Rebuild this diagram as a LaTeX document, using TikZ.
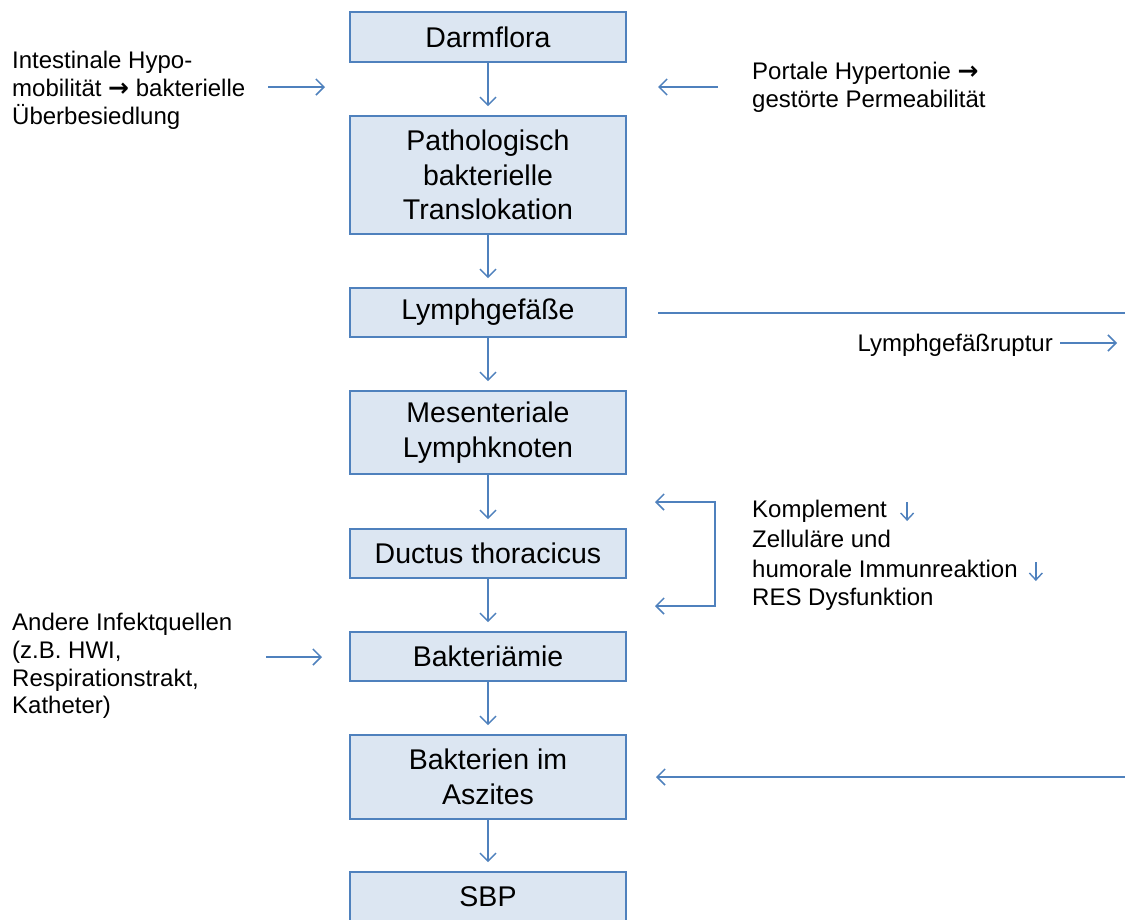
\documentclass[tikz,border=0pt]{standalone}
\usepackage{fontspec}
\setmainfont{Liberation Sans}
\newfontfamily\symfont{DejaVu Sans}
\usetikzlibrary{arrows.meta}
\definecolor{boxfill}{HTML}{DCE6F2}
\definecolor{boxline}{HTML}{4F81BD}
\definecolor{arr}{HTML}{4F81BD}
\begin{document}
\begin{tikzpicture}[x=1pt,y=-1pt,
  flowbox/.style={draw=boxline, line width=1.6pt, fill=boxfill, minimum width=276pt,
    align=center, font=\fontsize{28.5}{34.5}\selectfont, inner sep=0pt},
  side/.style={align=left, font=\fontsize{24}{27.8}\selectfont, inner sep=0pt},
  flow/.style={draw=arr, line width=1.5pt, -{Straight Barb[length=8pt,width=16pt]}},
  both/.style={draw=arr, line width=1.5pt, {Straight Barb[length=8pt,width=16pt]}-{Straight Barb[length=8pt,width=16pt]}},
  small/.style={draw=arr, line width=1.4pt, -{Straight Barb[length=7pt,width=13pt]}},
  plain/.style={draw=arr, line width=1.5pt}
]
\clip (0,0) rectangle (1125,919);
\fill[white] (0,0) rectangle (1125,919);

% main chain
\node[flowbox, minimum height=50pt] (d) at (488,37) {Darmflora};
\node[flowbox, minimum height=118pt] (p) at (488,175) {Pathologisch\\bakterielle\\Translokation};
\node[flowbox, minimum height=49pt] (l) at (488,312.5) {Lymphgefäße};
\node[flowbox, minimum height=83pt] (m) at (488,432.5) {Mesenteriale\\Lymphknoten};
\node[flowbox, minimum height=49pt] (dt) at (488,553.5) {Ductus thoracicus};
\node[flowbox, minimum height=49pt] (b) at (488,656.5) {Bakteriämie};
\node[flowbox, minimum height=84pt] (a) at (488,777) {Bakterien im\\Aszites};
\node[flowbox, minimum height=50pt] (s) at (488,897) {SBP};

\draw[flow, shorten >=9pt] (d.south) -- (p.north);
\draw[flow, shorten >=9pt] (p.south) -- (l.north);
\draw[flow, shorten >=9pt] (l.south) -- (m.north);
\draw[flow, shorten >=9pt] (m.south) -- (dt.north);
\draw[flow, shorten >=9pt] (dt.south) -- (b.north);
\draw[flow, shorten >=9pt] (b.south) -- (a.north);
\draw[flow, shorten >=9pt] (a.south) -- (s.north);

% left inputs
\node[side, anchor=west] (intest) at (12,90) {Intestinale Hypo-\\mobilität {\symfont\bfseries\fontsize{25}{27.8}\selectfont →} bakterielle\\Überbesiedlung};
\coordinate (inS) at (268,87);
\coordinate (inT) at (325,87);
\draw[flow] (inS) -- (inT);

\node[side, anchor=west] (andere) at (12,666) {Andere Infektquellen\\(z.B. HWI,\\Respirationstrakt,\\Katheter)};
\coordinate (anS) at (266,657);
\coordinate (anT) at (322,657);
\draw[flow] (anS) -- (anT);

% right inputs
\node[side, anchor=west] (portal) at (752,87) {Portale Hypertonie {\symfont\bfseries\fontsize{25}{27.8}\selectfont →}\\gestörte Permeabilität};
\coordinate (poS) at (718,87);
\coordinate (poT) at (658,87);
\draw[flow] (poS) -- (poT);

\coordinate (lyA) at (658,313);
\coordinate (lyB) at (1125,313);
\draw[plain] (lyA) -- (lyB);
\node[side, anchor=base east] (rup) at (1053,351) {Lymphgefäßruptur};
\coordinate (ruT) at (1117,343);
\draw[flow] ([xshift=7pt]rup.east |- ruT) -- (ruT);

% immune bracket
\coordinate (brT) at (655,502);
\coordinate (brTR) at (715,502);
\coordinate (brBR) at (715,606);
\coordinate (brB) at (655,606);
\draw[both] (brT) -- (brTR) -- (brBR) -- (brB);

\node[side, anchor=base west] (k1) at (752,517) {Komplement};
\node[side, anchor=base west] (k2) at (752,547) {Zelluläre und};
\node[side, anchor=base west] (k3) at (752,577) {humorale Immunreaktion};
\node[side, anchor=base west] (k4) at (752,605) {RES Dysfunktion};
\draw[small] ([xshift=20pt,yshift=15pt]k1.base east) -- ++(0,19);
\draw[small] ([xshift=18pt,yshift=15pt]k3.base east) -- ++(0,19);

% ascites arrow
\coordinate (asS) at (1125,777);
\coordinate (asT) at (656,777);
\draw[flow] (asS) -- (asT);
\end{tikzpicture}
\end{document}
